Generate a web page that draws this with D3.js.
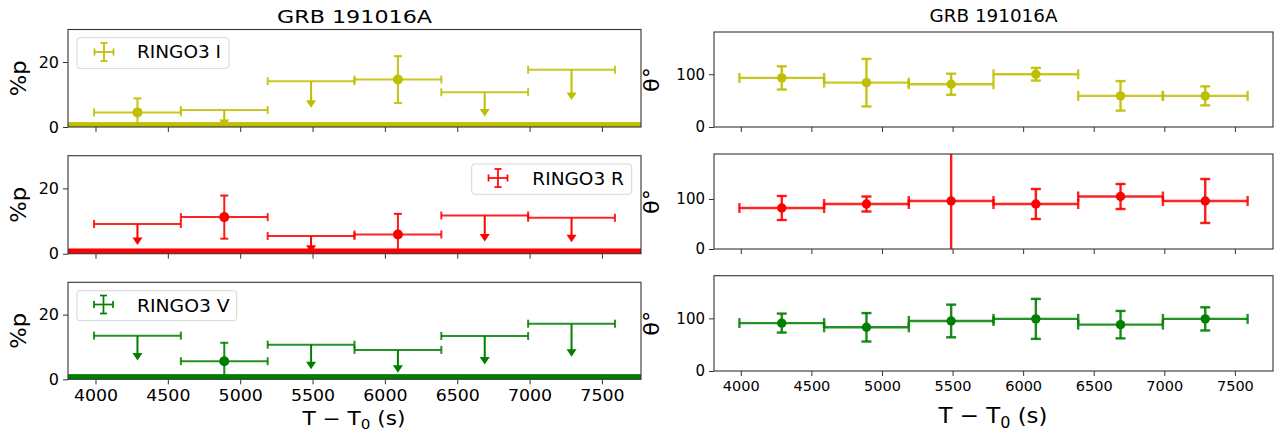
<!DOCTYPE html>
<html><head><meta charset="utf-8">
<script src="https://cdn.jsdelivr.net/npm/d3@7"></script>
<style>
body{margin:0;background:#fff}
svg{display:block}
text{font-family:"DejaVu Sans",sans-serif;fill:#000}
</style>
</head><body>
<svg id="c" width="1274" height="433"></svg>
<script>
// ---------- data ----------
const timeCenters = [4290, 4890, 5490, 6090, 6690, 7290];
const timeHalfWidths = [300, 300, 300, 300, 300, 300];
const bandNames = ["RINGO3 I", "RINGO3 R", "RINGO3 V"];
const bandColors = ["#bfbf00", "#ff0000", "#008000"];

const polI = [4.5, 5.2, 14.1, 14.6, 10.7, 17.6];
const polIErr = [4.3, 5.2, 8.2, 7.2, 7.5, 9.3];
const polIUpper = [false, true, true, false, true, true];

const polR = [9.1, 11.2, 5.4, 5.9, 11.7, 11.0];
const polRErr = [6.4, 6.6, 5.1, 6.3, 8.0, 7.5];
const polRUpper = [true, false, true, false, true, true];

const polV = [13.5, 5.6, 10.7, 9.1, 13.4, 17.2];
const polVErr = [7.7, 5.7, 7.6, 7.1, 8.8, 10.2];
const polVUpper = [true, false, true, true, true, true];

const thetaI = [93, 84, 81, 100, 59, 59];
const thetaIErr = [22, 45, 20, 12, 28, 18];
const thetaR = [82, 90, 96, 90, 105, 96];
const thetaRErr = [24, 15, 120, 30, 25, 44];
const thetaV = [91, 83, 95, 99, 88, 99];
const thetaVErr = [18, 27, 31, 38, 26, 22];

const instrumentalLevel = [1.5, 1.6, 1.6];
const polDomain = [0, 30];
const thetaMax = [180, 190, 181];
const xDomain = [3810, 7770];
const xTickValues = [4000, 4500, 5000, 5500, 6000, 6500, 7000, 7500];
const polTickValues = [0, 20];
const thetaTickValues = [0, 100];
const titleText = "GRB 191016A";

// ---------- layout ----------
const svg = d3.select("#c");
const leftX = [68, 641], rightX = [714, 1273];
const leftRows = [[29.5, 127], [155.7, 253.7], [282.3, 379.3]];
const rightRows = [[32, 127], [154, 249], [275.7, 371]];
const legendBoxes = [
  {x: 77, y: 37.7, w: 152, h: 30.6, hx: 104, hy: 52, tx: 137, ty: 57.7},
  {x: 471.7, y: 164, w: 160, h: 30.3, hx: 498, hy: 178, tx: 532.3, ty: 184.7},
  {x: 77, y: 290.7, w: 159.7, h: 30, hx: 103.5, hy: 304.5, tx: 137, ty: 311.7}
];
const legendTextW = [84, 91.7, 92.7];

const pol = [polI, polR, polV], polErr = [polIErr, polRErr, polVErr], polUp = [polIUpper, polRUpper, polVUpper];
const th = [thetaI, thetaR, thetaV], thErr = [thetaIErr, thetaRErr, thetaVErr];

function fit(sel, w) {
  sel.each(function () {
    const n = this.getComputedTextLength();
    const target = typeof w === "function" ? w(n) : w;
    d3.select(this).attr("textLength", target).attr("lengthAdjust", "spacingAndGlyphs");
  });
}

const defs = svg.append("defs");
let clipId = 0;

function panel(xr, yr, yDom, opts) {
  const x = d3.scaleLinear().domain(xDomain).range(xr);
  const y = d3.scaleLinear().domain(yDom).range([yr[1], yr[0]]);
  const g = svg.append("g");
  const id = "clip" + (clipId++);
  defs.append("clipPath").attr("id", id).append("rect")
    .attr("x", xr[0]).attr("y", yr[0]).attr("width", xr[1] - xr[0]).attr("height", yr[1] - yr[0]);
  const plot = g.append("g").attr("clip-path", `url(#${id})`);
  const xa = g.append("g").attr("transform", `translate(0,${yr[1]})`)
    .call(d3.axisBottom(x).tickValues(xTickValues).tickSize(opts.tickLen).tickPadding(opts.xPad)
      .tickFormat(opts.xLabels ? d3.format("d") : () => ""));
  xa.select(".domain").remove();
  xa.selectAll("line").attr("stroke", "#333").attr("stroke-width", 1);
  xa.selectAll("text").style("font-size", opts.xFont + "px").attr("fill", "#222");
  if (opts.xLabels && opts.xStretch) fit(xa.selectAll("text"), n => n * opts.xStretch);
  const ya = g.append("g").attr("transform", `translate(${xr[0]},0)`)
    .call(d3.axisLeft(y).tickValues(opts.yTicks).tickSize(opts.tickLen).tickPadding(opts.yPad).tickFormat(d3.format("d")));
  ya.select(".domain").remove();
  ya.selectAll("line").attr("stroke", "#333").attr("stroke-width", 1);
  ya.selectAll("text").style("font-size", opts.yFont + "px").attr("fill", "#222");
  return {x, y, g, plot, xr, yr};
}

function drawErr(p, t, hw, v, e, up, color, cap, r, lw) {
  const {x, y, plot} = p;
  const yv = y(v);
  const gg = plot.append("g");
  gg.append("line").attr("x1", x(t - hw)).attr("x2", x(t + hw)).attr("y1", yv).attr("y2", yv)
    .attr("stroke", color).attr("stroke-width", lw).attr("opacity", 0.85);
  [t - hw, t + hw].forEach(tt => gg.append("line").attr("x1", x(tt)).attr("x2", x(tt))
    .attr("y1", yv - cap / 2).attr("y2", yv + cap / 2).attr("stroke", color).attr("stroke-width", lw).attr("opacity", 0.85));
  if (up) {
    const yb = y(v - e);
    gg.append("line").attr("x1", x(t)).attr("x2", x(t)).attr("y1", yv).attr("y2", yb - 4)
      .attr("stroke", color).attr("stroke-width", lw);
    gg.append("path").attr("d", `M${x(t) - 5},${yb - 7.5}L${x(t) + 5},${yb - 7.5}L${x(t)},${yb}Z`).attr("fill", color);
  } else {
    const y1 = y(v - e), y2 = y(v + e);
    gg.append("line").attr("x1", x(t)).attr("x2", x(t)).attr("y1", y1).attr("y2", y2)
      .attr("stroke", color).attr("stroke-width", lw).attr("opacity", 0.9);
    [y1, y2].forEach(yy => gg.append("line").attr("x1", x(t) - cap / 2).attr("x2", x(t) + cap / 2)
      .attr("y1", yy).attr("y2", yy).attr("stroke", color).attr("stroke-width", lw).attr("opacity", 0.9));
    gg.append("circle").attr("cx", x(t)).attr("cy", yv).attr("r", r).attr("fill", color);
  }
}

function frame(p) {
  p.g.append("rect").attr("x", p.xr[0]).attr("y", p.yr[0]).attr("width", p.xr[1] - p.xr[0]).attr("height", p.yr[1] - p.yr[0])
    .attr("fill", "none").attr("stroke", "#333").attr("stroke-width", 1.1);
}

for (let b = 0; b < 3; b++) {
  const color = bandColors[b];
  const L = panel(leftX, leftRows[b], polDomain, {tickLen: 5, xPad: 6, xLabels: b === 2, xFont: 15.5, xStretch: 1.12,
    yTicks: polTickValues, yPad: 4, yFont: 16});
  timeCenters.forEach((t, i) => drawErr(L, t, timeHalfWidths[i], pol[b][i], polErr[b][i], polUp[b][i], color, 8, 5, 2));
  L.plot.append("rect").attr("x", leftX[0]).attr("width", leftX[1] - leftX[0])
    .attr("y", L.y(instrumentalLevel[b])).attr("height", L.y(0) - L.y(instrumentalLevel[b])).attr("fill", color);
  frame(L);
  const lb = legendBoxes[b];
  const lg = svg.append("g");
  lg.append("rect").attr("x", lb.x).attr("y", lb.y).attr("width", lb.w).attr("height", lb.h).attr("rx", 3)
    .attr("fill", "#fff").attr("fill-opacity", 0.85).attr("stroke", "#d5d5d5").attr("stroke-width", 1);
  lg.append("line").attr("x1", lb.hx - 9.5).attr("x2", lb.hx + 9.5).attr("y1", lb.hy).attr("y2", lb.hy).attr("stroke", color).attr("stroke-width", 1.7);
  lg.append("line").attr("x1", lb.hx).attr("x2", lb.hx).attr("y1", lb.hy - 9).attr("y2", lb.hy + 9).attr("stroke", color).attr("stroke-width", 1.7);
  [-9.5, 9.5].forEach(dx => lg.append("line").attr("x1", lb.hx + dx).attr("x2", lb.hx + dx).attr("y1", lb.hy - 3.5).attr("y2", lb.hy + 3.5).attr("stroke", color).attr("stroke-width", 1.7));
  [-9, 9].forEach(dy => lg.append("line").attr("x1", lb.hx - 3.5).attr("x2", lb.hx + 3.5).attr("y1", lb.hy + dy).attr("y2", lb.hy + dy).attr("stroke", color).attr("stroke-width", 1.7));
  const lt = lg.append("text").attr("x", lb.tx).attr("y", lb.ty).style("font-size", "17px").text(bandNames[b]);
  fit(lt, legendTextW[b]);
  const cy = (leftRows[b][0] + leftRows[b][1]) / 2;
  const pl = svg.append("text").attr("transform", `translate(26,${cy}) rotate(-90)`).attr("text-anchor", "middle")
    .style("font-size", "21px").text("%p");
  fit(pl, 36);

  const R = panel(rightX, rightRows[b], [0, thetaMax[b]], {tickLen: 5, xPad: 5, xLabels: b === 2, xFont: 14.5, xStretch: 1.0,
    yTicks: thetaTickValues, yPad: 4, yFont: 15});
  timeCenters.forEach((t, i) => drawErr(R, t, timeHalfWidths[i], th[b][i], thErr[b][i], false, color, 10, 4.7, 2.4));
  frame(R);
  const rcy = (rightRows[b][0] + rightRows[b][1]) / 2;
  const tl = svg.append("text").attr("transform", `translate(659,${rcy}) rotate(-90)`).attr("text-anchor", "middle")
    .style("font-size", "21px").text("θ°");
  fit(tl, 25);
}

const t1 = svg.append("text").attr("x", 354.5).attr("y", 22.7).attr("text-anchor", "middle").style("font-size", "18px").text(titleText);
fit(t1, 155);
const t2 = svg.append("text").attr("x", 993.5).attr("y", 21.7).attr("text-anchor", "middle").style("font-size", "17px").text(titleText);
fit(t2, 128);

function xLabel(cx, by, fs, w) {
  const t = svg.append("text").attr("x", cx).attr("y", by).attr("text-anchor", "middle").style("font-size", fs + "px");
  t.append("tspan").text("T \u2212 T");
  t.append("tspan").attr("dy", fs * 0.22).style("font-size", (fs * 0.7) + "px").text("0");
  t.append("tspan").attr("dy", -fs * 0.22).text(" (s)");
  fit(t, w);
}
xLabel(354, 425, 19, 103);
xLabel(993, 423.3, 22, 109);
</script>
</body></html>
